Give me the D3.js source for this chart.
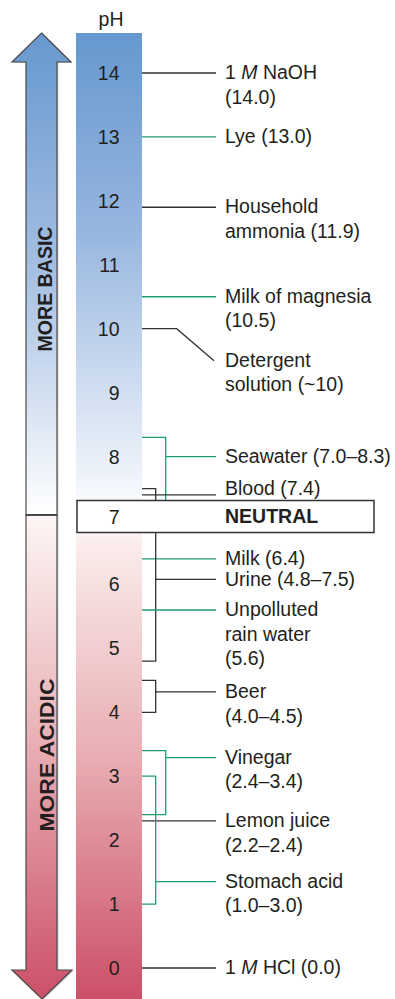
<!DOCTYPE html>
<html><head><meta charset="utf-8">
<script src="https://cdn.jsdelivr.net/npm/d3@7"></script>
<style>html,body{margin:0;padding:0;background:#fff;} svg{display:block;font-family:"Liberation Sans",Arial,sans-serif;}</style>
</head><body><div id="chart"></div>
<script>
// ---------- data ----------
const phTicks = [0,1,2,3,4,5,6,7,8,9,10,11,12,13,14];
const axisTitle = "pH";
const arrowLabels = ["MORE BASIC", "MORE ACIDIC"];
const neutralValue = 7;
const neutralLabel = "NEUTRAL";
const itemLabels = [
  ["1 M NaOH", "(14.0)"],
  ["Lye (13.0)"],
  ["Household", "ammonia (11.9)"],
  ["Milk of magnesia", "(10.5)"],
  ["Detergent", "solution (~10)"],
  ["Seawater (7.0–8.3)"],
  ["Blood (7.4)"],
  ["Milk (6.4)"],
  ["Urine (4.8–7.5)"],
  ["Unpolluted", "rain water", "(5.6)"],
  ["Beer", "(4.0–4.5)"],
  ["Vinegar", "(2.4–3.4)"],
  ["Lemon juice", "(2.2–2.4)"],
  ["Stomach acid", "(1.0–3.0)"],
  ["1 M HCl (0.0)"]
];
const itemLow  = [14, 13, 11.9, 10.5, 10, 7.0, 7.4, 6.4, 4.8, 5.6, 4.0, 2.4, 2.3, 1.0, 0];
const itemHigh = [14, 13, 11.9, 10.5, 10, 8.3, 7.4, 6.4, 7.5, 5.6, 4.5, 3.4, 2.3, 3.0, 0];
const itemLabelPH = [14, 13, 11.9, 10.5, 9.5, 8.0, 7.4, 6.4, 6.08, 5.6, 4.32, 3.29, 2.3, 1.35, 0];
const itemSet = ["a","b","a","b","a","b","a","b","a","b","a","b","a","b","a"];

// ---------- layout ----------
const W = 395, H = 999;
const barX = 76, barW = 66, barTop = 33;
const leaderEnd = 216, textX = 225;
const fs = 19.5, lineH = 24.5;
const ink = "#231f20";

const svg = d3.select("#chart").append("svg").attr("width", W).attr("height", H);
const y = d3.scaleLinear().domain([0, 14]).range([968, 73]);
const color = d3.scaleOrdinal().domain(["a","b"]).range(["#333333", "#1f9d6c"]);

const defs = svg.append("defs");
function grad(id, y1, y2, stops) {
  const g = defs.append("linearGradient").attr("id", id)
    .attr("gradientUnits", "userSpaceOnUse").attr("x1", 0).attr("x2", 0).attr("y1", y1).attr("y2", y2);
  stops.forEach(s => g.append("stop").attr("offset", s[0]).attr("stop-color", s[1]));
}
grad("barGrad", barTop, H, [[0, "#6698cf"], [0.2, "#95b5de"], [0.47, "#f3f6fc"], [0.5, "#ffffff"], [0.53, "#faeceb"], [0.75, "#e8adb2"], [1, "#cc5068"]]);
grad("upGrad", 33, 515, [[0, "#6698cf"], [0.5, "#a6c0e3"], [1, "#ffffff"]]);
grad("downGrad", 515, 999, [[0, "#fdf5f4"], [0.45, "#e9b3b7"], [1, "#cc5068"]]);

// ---------- arrows ----------
const ax = 41.5, shL = 26, shR = 57, hdL = 12, hdR = 71, divY = 515;
const upPts = [[ax, 33], [hdR, 62], [shR, 62], [shR, divY], [shL, divY], [shL, 62], [hdL, 62]];
const dnPts = [[shL, divY], [shR, divY], [shR, 970], [hdR + 1, 970], [ax + 0.5, 999], [hdL, 970], [shL, 970]];
const line = d3.line();
[upPts, dnPts].forEach(p => {
  svg.append("path").attr("d", line(p) + "Z").attr("fill", "#999").attr("opacity", 0.45)
    .attr("transform", "translate(1.5,1)");
});
svg.append("path").attr("d", line(upPts) + "Z").attr("fill", "url(#upGrad)").attr("stroke", "#4a4a4a").attr("stroke-width", 1.2);
svg.append("path").attr("d", line(dnPts) + "Z").attr("fill", "url(#downGrad)").attr("stroke", "#4a4a4a").attr("stroke-width", 1.2);
svg.append("line").attr("x1", shL).attr("x2", shR).attr("y1", divY).attr("y2", divY).attr("stroke", "#333").attr("stroke-width", 1.5);

svg.append("text").text(arrowLabels[0]).attr("transform", "translate(52,289) rotate(-90)")
  .attr("text-anchor", "middle").attr("font-weight", "bold").attr("font-size", 21)
  .attr("textLength", 125).attr("lengthAdjust", "spacingAndGlyphs").attr("fill", ink);
svg.append("text").text(arrowLabels[1]).attr("transform", "translate(53.5,755) rotate(-90)")
  .attr("text-anchor", "middle").attr("font-weight", "bold").attr("font-size", 21)
  .attr("textLength", 153).attr("lengthAdjust", "spacingAndGlyphs").attr("fill", ink);

// ---------- pH bar ----------
svg.append("rect").attr("x", barX).attr("y", barTop).attr("width", barW).attr("height", H - barTop)
  .attr("fill", "url(#barGrad)");
svg.append("text").text(axisTitle).attr("x", 111).attr("y", 26).attr("text-anchor", "middle")
  .attr("font-size", fs).attr("fill", ink);

// ---------- leaders & brackets ----------
const items = itemLabels.map((lab, i) => ({
  lab, lo: itemLow[i], hi: itemHigh[i], lp: itemLabelPH[i], set: itemSet[i]
}));
const ranges = items.filter(d => d.lo !== d.hi);
items.forEach(d => {
  if (d.lo === d.hi) return;
  const outer = ranges.some(o => o !== d && o.lo < d.hi && d.lo < o.hi && o.hi < d.hi);
  d.bx = outer ? 165.7 : 155.7;
});
const lines = svg.append("g").attr("fill", "none").attr("stroke-width", 1.3);
items.forEach(d => {
  const p = d3.path();
  const x0 = barX + barW;
  if (d.lo !== d.hi) {
    p.moveTo(x0, y(d.hi)); p.lineTo(d.bx, y(d.hi)); p.lineTo(d.bx, y(d.lo)); p.lineTo(x0, y(d.lo));
    p.moveTo(d.bx, y(d.lp)); p.lineTo(leaderEnd, y(d.lp));
  } else if (d.lp !== d.lo) {
    p.moveTo(x0, y(d.lo)); p.lineTo(176.7, y(d.lo)); p.lineTo(214, y(d.lp));
  } else {
    p.moveTo(x0, y(d.lo)); p.lineTo(leaderEnd, y(d.lo));
  }
  lines.append("path").attr("d", p.toString()).attr("stroke", color(d.set));
});

// ---------- neutral box ----------
const ny = y(neutralValue);
const boxTop = ny - 20;
svg.append("rect").attr("x", 77).attr("y", boxTop).attr("width", 297).attr("height", 32)
  .attr("fill", "#fff").attr("stroke", "#333").attr("stroke-width", 1.5);
svg.append("text").text(neutralLabel).attr("x", textX).attr("y", ny + 2.8)
  .attr("font-weight", "bold").attr("font-size", fs).attr("fill", ink);

// ---------- labels ----------
const labG = svg.append("g").attr("font-size", fs).attr("fill", ink);
items.forEach(d => {
  let base = y(d.lp) + 6.2;
  if (base < boxTop + 2 && base > boxTop - 6) base = boxTop - 5.5; // keep clear of the neutral box
  d.lab.forEach((s, k) => {
    const t = labG.append("text").attr("x", textX).attr("y", base + k * lineH);
    s.split(/(\bM\b)/).forEach(part => {
      if (!part) return;
      const ts = t.append("tspan").text(part);
      if (part === "M") ts.attr("font-style", "italic");
    });
  });
});

// ---------- axis numbers ----------
const axis = d3.axisLeft(y).tickValues(phTicks).tickSize(0).tickPadding(0).tickFormat(d3.format("d"));
const ag = svg.append("g").attr("transform", "translate(119.5,0)").call(axis);
ag.select(".domain").remove();
ag.selectAll("text").attr("font-size", fs).attr("fill", ink)
  .attr("font-family", "'Liberation Sans',Arial,sans-serif")
  .attr("dy", null).attr("y", d => d === neutralValue ? 2.8 : 6.5);
</script></body></html>
